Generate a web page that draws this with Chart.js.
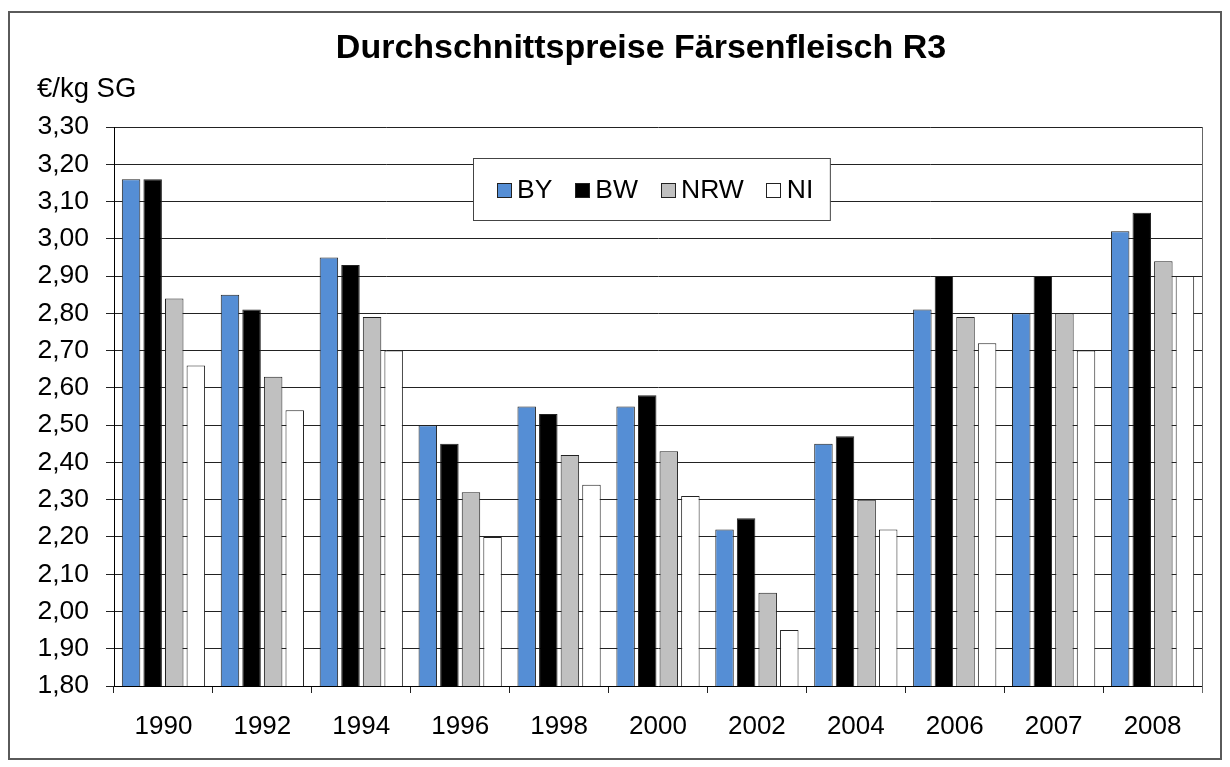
<!DOCTYPE html>
<html>
<head>
<meta charset="utf-8">
<script src="https://cdn.jsdelivr.net/npm/chart.js@4"></script>
<style>
  html, body { margin:0; padding:0; background:#fff; }
  #wrap { width:1230px; height:767px; }
</style>
</head>
<body>
<div id="wrap"><canvas id="chart" width="1230" height="767"></canvas></div>
<script>
// Daten
const YEARS = ["1990","1992","1994","1996","1998","2000","2002","2004","2006","2007","2008"];
const BY  = [3.16, 2.85, 2.95, 2.50, 2.55, 2.55, 2.22, 2.45, 2.81, 2.80, 3.02];
const BW  = [3.16, 2.81, 2.93, 2.45, 2.53, 2.58, 2.25, 2.47, 2.90, 2.90, 3.07];
const NRW = [2.84, 2.63, 2.79, 2.32, 2.42, 2.43, 2.05, 2.30, 2.79, 2.80, 2.94];
const NI  = [2.66, 2.54, 2.70, 2.20, 2.34, 2.31, 1.95, 2.22, 2.72, 2.70, 2.90];
const Y_TICKS = [1.80, 1.90, 2.00, 2.10, 2.20, 2.30, 2.40, 2.50, 2.60, 2.70, 2.80, 2.90, 3.00, 3.10, 3.20, 3.30];

const TITLE = "Durchschnittspreise Färsenfleisch R3";
const UNIT = "€/kg SG";
const FONT = "'Liberation Sans', Arial, sans-serif";

// Rahmen, Titel, Einheit und Legende
const deco = {
  id: "deco",
  afterDraw(chart){
    const {ctx, chartArea:a} = chart;
    ctx.save();
    // äußerer Rahmen
    ctx.strokeStyle = "#5a5a5a";
    ctx.lineWidth = 2;
    ctx.strokeRect(9, 12, 1212, 747);
    // rechte Kante Diagrammfläche
    ctx.strokeStyle = "#666";
    ctx.lineWidth = 1;
    ctx.beginPath();
    ctx.moveTo(a.right + 0.5, a.top);
    ctx.lineTo(a.right + 0.5, a.bottom + 7);
    ctx.stroke();

    ctx.fillStyle = "#000";
    ctx.font = "bold 34px " + FONT;
    ctx.textAlign = "center";
    ctx.textBaseline = "alphabetic";
    ctx.fillText(TITLE, 641, 58);

    ctx.font = "27.5px " + FONT;
    ctx.textAlign = "left";
    ctx.fillText(UNIT, 37, 97);

    // Legende
    const ds = chart.data.datasets;
    ctx.font = "26.5px " + FONT;
    const sq = 14, txtOff = 20.5, gap = 22.5;
    let w = 0;
    ds.forEach((d,i)=>{
      w += txtOff + ctx.measureText(d.label).width + (i < ds.length-1 ? gap : 0);
    });
    const boxL = 473.5, boxT = 158.5, boxH = 62;
    const boxW = 23 + w + 17;
    ctx.fillStyle = "#fff";
    ctx.fillRect(boxL, boxT, boxW, boxH);
    ctx.strokeStyle = "#444";
    ctx.lineWidth = 1;
    ctx.strokeRect(boxL, boxT, boxW, boxH);
    let x = boxL + 23;
    const cy = boxT + boxH/2;
    ds.forEach(d=>{
      ctx.fillStyle = d.backgroundColor;
      ctx.fillRect(Math.round(x)+0.5, Math.round(cy - sq/2)+0.5, sq, sq);
      ctx.strokeStyle = "#222";
      ctx.strokeRect(Math.round(x)+0.5, Math.round(cy - sq/2)+0.5, sq, sq);
      ctx.fillStyle = "#000";
      ctx.textBaseline = "middle";
      ctx.fillText(d.label, x + txtOff, cy + 1);
      x += txtOff + ctx.measureText(d.label).width + gap;
    });
    ctx.restore();
  }
};

const mk = (label, data, color) => ({
  label, data,
  backgroundColor: color,
  borderColor: "#222",
  borderWidth: 1,
  categoryPercentage: 0.873,
  barPercentage: 0.856
});

new Chart(document.getElementById("chart"), {
  type: "bar",
  data: {
    labels: YEARS,
    datasets: [
      mk("BY", BY, "#558ED5"),
      mk("BW", BW, "#000000"),
      mk("NRW", NRW, "#C0C0C0"),
      mk("NI", NI, "#FFFFFF")
    ]
  },
  options: {
    responsive: false,
    animation: false,
    devicePixelRatio: 1,
    layout: { padding: { left: 0, top: 127, right: 28, bottom: 0 } },
    plugins: {
      legend: { display: false },
      title: { display: false },
      tooltip: { enabled: false }
    },
    scales: {
      x: {
        grid: { offset: true, drawOnChartArea: false, drawTicks: true, tickLength: 7, color: "#222" },
        border: { display: true, color: "#000", width: 1 },
        ticks: { color: "#000", font: { family: FONT, size: 26 }, padding: 18, maxRotation: 0 },
        afterFit: s => { s.height = 81; }
      },
      y: {
        min: 1.8,
        max: 3.3,
        afterBuildTicks: s => { s.ticks = Y_TICKS.map(v => ({ value: v })); },
        grid: { color: "#222", lineWidth: 1, tickLength: 8, drawTicks: true },
        border: { display: true, color: "#000", width: 1 },
        ticks: {
          color: "#000",
          font: { family: FONT, size: 26.5 },
          padding: 17,
          callback: v => Number(v).toFixed(2).replace(".", ",")
        },
        afterFit: s => { s.width = 114; }
      }
    }
  },
  plugins: [deco]
});
</script>
</body>
</html>
